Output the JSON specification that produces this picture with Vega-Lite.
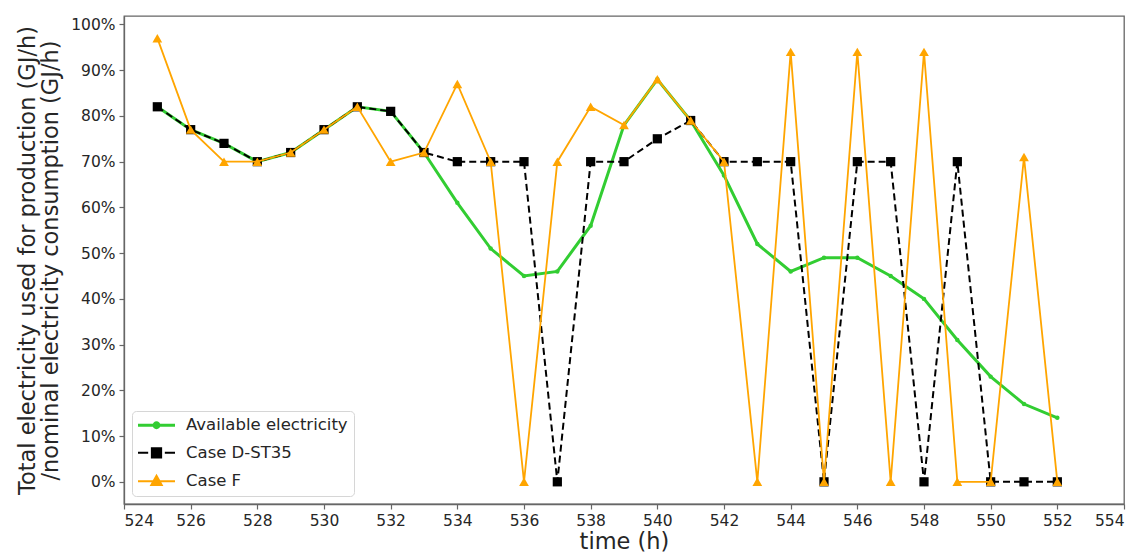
{
  "$schema": "https://vega.github.io/schema/vega-lite/v6.json",
  "width": 1000,
  "height": 488,
  "autosize": {"type": "none"},
  "padding": {"left": 124, "top": 16, "right": 12, "bottom": 50},
  "background": "white",
  "config": {
    "font": "DejaVu Sans",
    "view": {"stroke": "#666666", "strokeWidth": 1.3},
    "axis": {
      "grid": false,
      "domainColor": "#666666",
      "domainWidth": 1.3,
      "tickColor": "#666666",
      "tickWidth": 1.2,
      "tickSize": 5,
      "labelFontSize": 15.5,
      "labelColor": "#262626",
      "titleFontSize": 22.5,
      "titleFontWeight": "normal",
      "titleColor": "#262626",
      "labelPadding": 4
    },
    "legend": {
      "orient": "bottom-left",
      "offset": 8,
      "padding": 6,
      "strokeColor": "#d6d6d6",
      "fillColor": "white",
      "cornerRadius": 4,
      "labelFontSize": 16.5,
      "labelColor": "#262626",
      "labelLimit": 400,
      "rowPadding": 9.5,
      "title": null
    }
  },
  "data": {
    "values": [
      {"series": "Available electricity", "time": 525, "value": 82},
      {"series": "Available electricity", "time": 526, "value": 77},
      {"series": "Available electricity", "time": 527, "value": 74},
      {"series": "Available electricity", "time": 528, "value": 70},
      {"series": "Available electricity", "time": 529, "value": 72},
      {"series": "Available electricity", "time": 530, "value": 77},
      {"series": "Available electricity", "time": 531, "value": 82},
      {"series": "Available electricity", "time": 532, "value": 81},
      {"series": "Available electricity", "time": 533, "value": 72},
      {"series": "Available electricity", "time": 534, "value": 61},
      {"series": "Available electricity", "time": 535, "value": 51},
      {"series": "Available electricity", "time": 536, "value": 45},
      {"series": "Available electricity", "time": 537, "value": 46},
      {"series": "Available electricity", "time": 538, "value": 56},
      {"series": "Available electricity", "time": 539, "value": 78},
      {"series": "Available electricity", "time": 540, "value": 88},
      {"series": "Available electricity", "time": 541, "value": 79},
      {"series": "Available electricity", "time": 542, "value": 67},
      {"series": "Available electricity", "time": 543, "value": 52},
      {"series": "Available electricity", "time": 544, "value": 46},
      {"series": "Available electricity", "time": 545, "value": 49},
      {"series": "Available electricity", "time": 546, "value": 49},
      {"series": "Available electricity", "time": 547, "value": 45},
      {"series": "Available electricity", "time": 548, "value": 40},
      {"series": "Available electricity", "time": 549, "value": 31},
      {"series": "Available electricity", "time": 550, "value": 23},
      {"series": "Available electricity", "time": 551, "value": 17},
      {"series": "Available electricity", "time": 552, "value": 14},
      {"series": "Case D-ST35", "time": 525, "value": 82},
      {"series": "Case D-ST35", "time": 526, "value": 77},
      {"series": "Case D-ST35", "time": 527, "value": 74},
      {"series": "Case D-ST35", "time": 528, "value": 70},
      {"series": "Case D-ST35", "time": 529, "value": 72},
      {"series": "Case D-ST35", "time": 530, "value": 77},
      {"series": "Case D-ST35", "time": 531, "value": 82},
      {"series": "Case D-ST35", "time": 532, "value": 81},
      {"series": "Case D-ST35", "time": 533, "value": 72},
      {"series": "Case D-ST35", "time": 534, "value": 70},
      {"series": "Case D-ST35", "time": 535, "value": 70},
      {"series": "Case D-ST35", "time": 536, "value": 70},
      {"series": "Case D-ST35", "time": 537, "value": 0},
      {"series": "Case D-ST35", "time": 538, "value": 70},
      {"series": "Case D-ST35", "time": 539, "value": 70},
      {"series": "Case D-ST35", "time": 540, "value": 75},
      {"series": "Case D-ST35", "time": 541, "value": 79},
      {"series": "Case D-ST35", "time": 542, "value": 70},
      {"series": "Case D-ST35", "time": 543, "value": 70},
      {"series": "Case D-ST35", "time": 544, "value": 70},
      {"series": "Case D-ST35", "time": 545, "value": 0},
      {"series": "Case D-ST35", "time": 546, "value": 70},
      {"series": "Case D-ST35", "time": 547, "value": 70},
      {"series": "Case D-ST35", "time": 548, "value": 0},
      {"series": "Case D-ST35", "time": 549, "value": 70},
      {"series": "Case D-ST35", "time": 550, "value": 0},
      {"series": "Case D-ST35", "time": 551, "value": 0},
      {"series": "Case D-ST35", "time": 552, "value": 0},
      {"series": "Case F", "time": 525, "value": 97},
      {"series": "Case F", "time": 526, "value": 77},
      {"series": "Case F", "time": 527, "value": 70},
      {"series": "Case F", "time": 528, "value": 70},
      {"series": "Case F", "time": 529, "value": 72},
      {"series": "Case F", "time": 530, "value": 77},
      {"series": "Case F", "time": 531, "value": 82},
      {"series": "Case F", "time": 532, "value": 70},
      {"series": "Case F", "time": 533, "value": 72},
      {"series": "Case F", "time": 534, "value": 87},
      {"series": "Case F", "time": 535, "value": 70},
      {"series": "Case F", "time": 536, "value": 0},
      {"series": "Case F", "time": 537, "value": 70},
      {"series": "Case F", "time": 538, "value": 82},
      {"series": "Case F", "time": 539, "value": 78},
      {"series": "Case F", "time": 540, "value": 88},
      {"series": "Case F", "time": 541, "value": 79},
      {"series": "Case F", "time": 542, "value": 70},
      {"series": "Case F", "time": 543, "value": 0},
      {"series": "Case F", "time": 544, "value": 94},
      {"series": "Case F", "time": 545, "value": 0},
      {"series": "Case F", "time": 546, "value": 94},
      {"series": "Case F", "time": 547, "value": 0},
      {"series": "Case F", "time": 548, "value": 94},
      {"series": "Case F", "time": 549, "value": 0},
      {"series": "Case F", "time": 550, "value": 0},
      {"series": "Case F", "time": 551, "value": 71},
      {"series": "Case F", "time": 552, "value": 0}
    ]
  },
  "encoding": {
    "x": {
      "field": "time",
      "type": "quantitative",
      "scale": {"domain": [524, 554], "nice": false, "zero": false},
      "axis": {
        "title": "time (h)",
        "values": [524, 526, 528, 530, 532, 534, 536, 538, 540, 542, 544, 546, 548, 550, 552, 554],
        "format": "d",
        "titlePadding": 2
      }
    },
    "y": {
      "field": "value",
      "type": "quantitative",
      "scale": {"domain": [-4.85, 101.85], "nice": false, "zero": false},
      "axis": {
        "title": ["Total electricity used for production (GJ/h)", "/nominal electricity consumption (GJ/h)"],
        "titleLineHeight": 23,
        "titlePadding": 8,
        "values": [0, 10, 20, 30, 40, 50, 60, 70, 80, 90, 100],
        "labelExpr": "datum.value + '%'"
      }
    },
    "color": {
      "field": "series",
      "type": "nominal",
      "scale": {
        "domain": ["Available electricity", "Case D-ST35", "Case F"],
        "range": ["#32CD32", "#000000", "#FFA500"]
      },
      "legend": {
        "title": null,
        "labelLimit": 400,
        "encode": {
          "symbols": {
            "update": {
              "x": {"value": 18.5},
              "shape": {"signal": "datum.value === 'Case F' ? 'M-1,0H1M0,-0.3L0.28,0.2L-0.28,0.2Z' : datum.value === 'Case D-ST35' ? 'M-1,0H-0.45M0.45,0H1M-0.25,-0.25H0.25V0.25H-0.25Z' : 'M-1,0H1M0.13,0A0.13,0.13,0,1,1,-0.13,0A0.13,0.13,0,1,1,0.13,0Z'"},
              "fill": {"signal": "datum.value === 'Case F' ? '#FFA500' : datum.value === 'Case D-ST35' ? '#000000' : '#32CD32'"},
              "stroke": {"signal": "datum.value === 'Case F' ? '#FFA500' : datum.value === 'Case D-ST35' ? '#000000' : '#32CD32'"},
              "strokeWidth": {"signal": "datum.value === 'Available electricity' ? 3 : 2"},
              "opacity": {"value": 1},
              "fillOpacity": {"value": 1},
              "strokeOpacity": {"value": 1},
              "size": {"value": 1369}
            }
          },
          "labels": {
            "update": {
              "x": {"value": 48}
            }
          }
        }
      }
    }
  },
  "layer": [
    {
      "transform": [{"filter": "datum.series === 'Available electricity'"}],
      "mark": {"type": "line", "strokeWidth": 3}
    },
    {
      "transform": [{"filter": "datum.series === 'Available electricity'"}],
      "mark": {"type": "point", "shape": "circle", "filled": true, "size": 20, "opacity": 1}
    },
    {
      "transform": [{"filter": "datum.series === 'Case D-ST35'"}],
      "mark": {"type": "line", "strokeWidth": 2, "strokeDash": [7, 4]}
    },
    {
      "transform": [{"filter": "datum.series === 'Case D-ST35'"}],
      "mark": {"type": "point", "shape": "square", "filled": true, "size": 85, "opacity": 1}
    },
    {
      "transform": [{"filter": "datum.series === 'Case F'"}],
      "mark": {"type": "line", "strokeWidth": 1.8}
    },
    {
      "transform": [{"filter": "datum.series === 'Case F'"}],
      "mark": {"type": "point", "shape": "triangle-up", "filled": true, "size": 95, "opacity": 1}
    }
  ]
}
